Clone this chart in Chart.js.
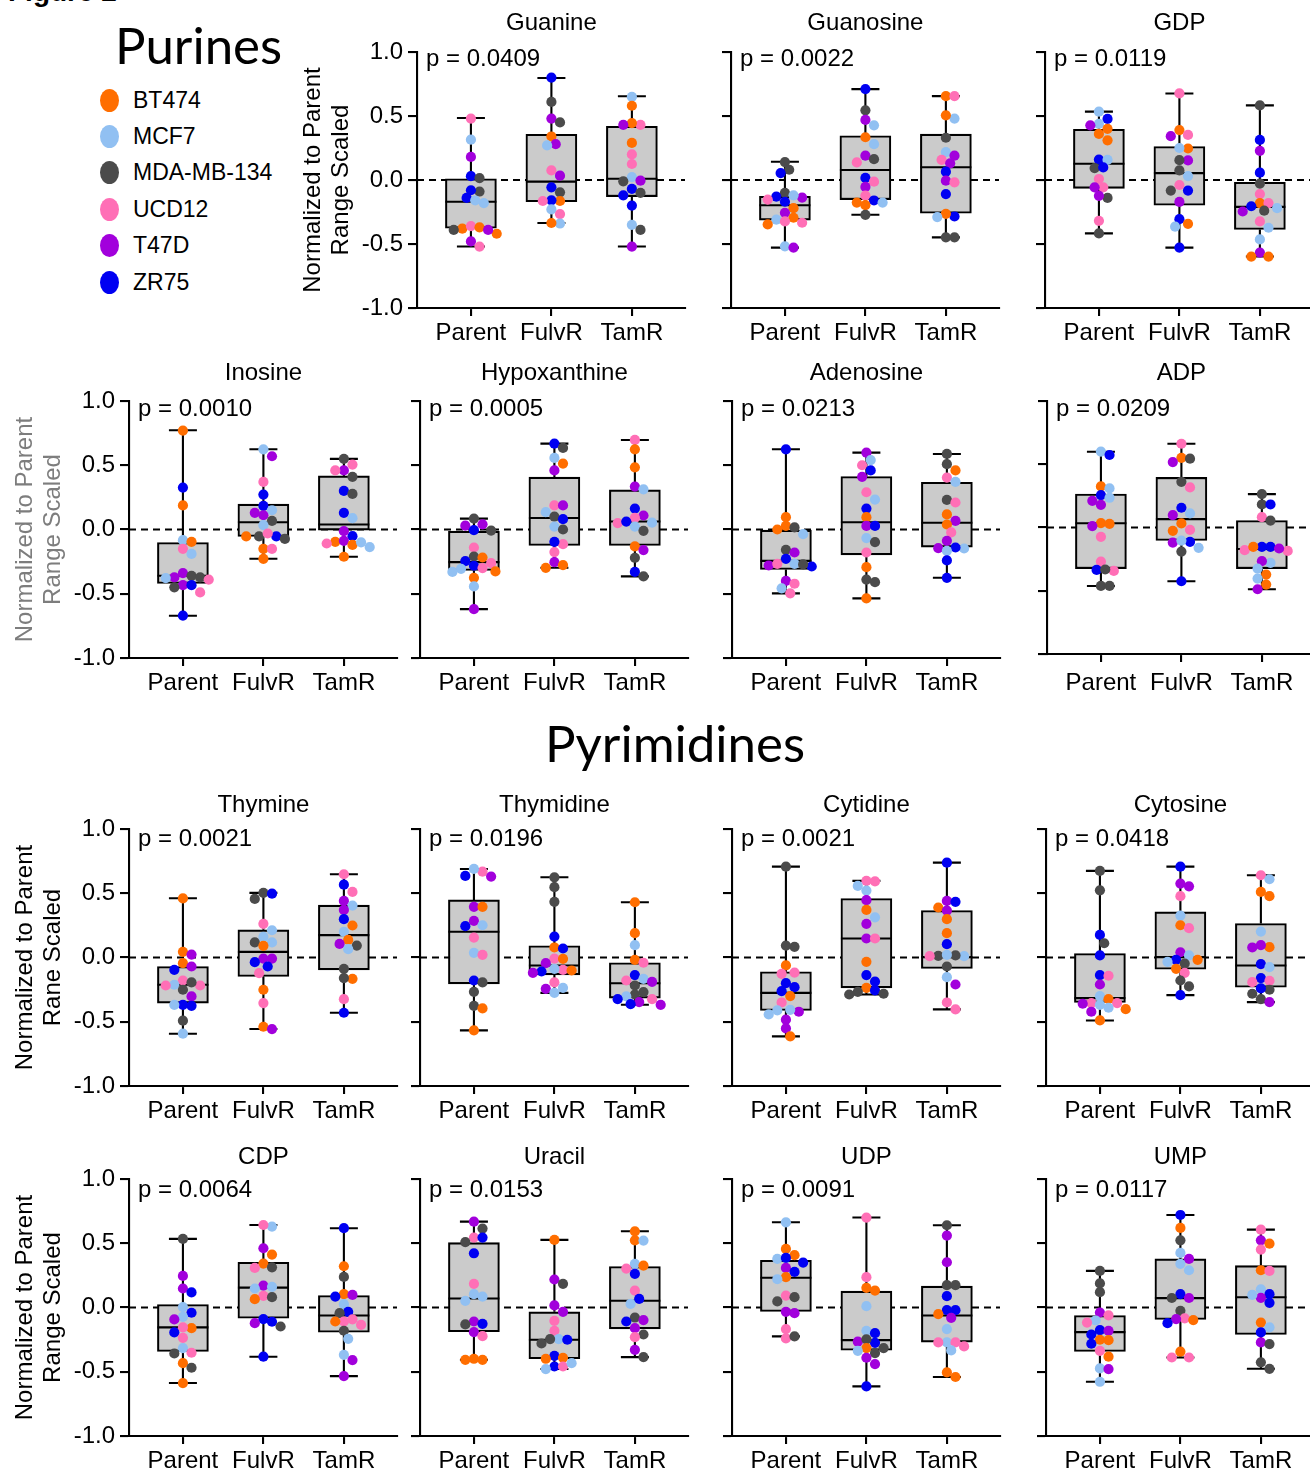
<!DOCTYPE html>
<html>
<head>
<meta charset="utf-8">
<script src="https://cdn.jsdelivr.net/npm/chart.js@4.4.1/dist/chart.umd.min.js"></script>
<style>
  body { margin: 0; background: #fff; }
  #page { position: relative; width: 1310px; height: 1475px; overflow: hidden; font-family: 'Liberation Sans', Arial, sans-serif; color: #000; }
  canvas { position: absolute; }
  .big { position: absolute; font-family: Lato, sans-serif; font-size: 51px; line-height: 51px; white-space: nowrap; }
  .leg { position: absolute; left: 100px; height: 24px; display: flex; align-items: center; font-size: 23px; white-space: nowrap; }
  .leg i { display: inline-block; width: 19px; height: 23px; border-radius: 50%; margin-right: 14px; }
</style>
</head>
<body>
<div id="page">
  <div style="position:absolute;left:8px;top:-22px;font:bold 28px/28px 'Liberation Sans',Arial;">Figure 2</div>
  <div class="big" style="left:115px;top:19px;">Purines</div>
  <div class="big" style="left:0;width:1350px;text-align:center;top:717px;">Pyrimidines</div>
</div>
<script>
// ---- data ----
const groups = ['Parent', 'FulvR', 'TamR'];
const cellLines = ['BT474', 'MCF7', 'MDA-MB-134', 'UCD12', 'T47D', 'ZR75'];
const lineCodes = ['o', 'l', 'd', 'p', 'v', 'b'];
const yTicks = [-1, -0.5, 0, 0.5, 1];

const panelNames = ['Guanine', 'Guanosine', 'GDP', 'Inosine', 'Hypoxanthine', 'Adenosine', 'ADP',
  'Thymine', 'Thymidine', 'Cytidine', 'Cytosine', 'CDP', 'Uracil', 'UDP', 'UMP'];
const pValues = ['0.0409', '0.0022', '0.0119', '0.0010', '0.0005', '0.0213', '0.0209',
  '0.0021', '0.0196', '0.0021', '0.0418', '0.0064', '0.0153', '0.0091', '0.0117'];

// box stats per group: [min, Q1, median, Q3, max]
const guanineBox = [[-0.52, -0.377, -0.17, 0.01, 0.484], [-0.336, -0.17, -0.013, 0.357, 0.797], [-0.52, -0.13, 0.01, 0.42, 0.654]];
const guanosineBox = [[-0.528, -0.313, -0.197, -0.127, 0.142], [-0.272, -0.153, 0.078, 0.345, 0.71], [-0.448, -0.26, 0.10, 0.358, 0.655]];
const gdpBox = [[-0.417, -0.065, 0.127, 0.396, 0.534], [-0.528, -0.197, 0.054, 0.262, 0.676], [-0.598, -0.386, -0.21, -0.018, 0.583]];
const inosineBox = [[-0.671, -0.42, -0.36, -0.101, 0.772], [-0.228, -0.054, 0.057, 0.197, 0.624], [-0.212, -0.005, 0.039, 0.417, 0.55]];
const hypoxanthineBox = [[-0.62, -0.319, -0.254, -0.013, 0.085], [-0.298, -0.124, 0.09, 0.407, 0.668], [-0.365, -0.124, 0.062, 0.308, 0.697]];
const adenosineBox = [[-0.497, -0.311, -0.244, -0.005, 0.624], [-0.536, -0.197, 0.057, 0.412, 0.598], [-0.376, -0.137, 0.052, 0.368, 0.588]];
const adpBox = [[-0.462, -0.325, 0.034, 0.264, 0.599], [-0.425, -0.103, 0.066, 0.396, 0.662], [-0.488, -0.325, -0.17, 0.055, 0.264]];
const thymineBox = [[-0.593, -0.355, -0.212, -0.07, 0.461], [-0.557, -0.148, 0.044, 0.215, 0.503], [-0.43, -0.096, 0.174, 0.407, 0.648]];
const thymidineBox = [[-0.567, -0.205, 0.20, 0.448, 0.689], [-0.275, -0.135, -0.062, 0.091, 0.624], [-0.368, -0.316, -0.20, -0.041, 0.43]];
const cytidineBox = [[-0.614, -0.412, -0.275, -0.111, 0.707], [-0.288, -0.236, 0.148, 0.459, 0.596], [-0.404, -0.085, 0.003, 0.365, 0.738]];
const cytosineBox = [[-0.49, -0.35, -0.316, 0.031, 0.674], [-0.293, -0.091, 0.003, 0.355, 0.707], [-0.347, -0.231, -0.062, 0.264, 0.64]];
const cdpBox = [[-0.588, -0.342, -0.155, 0.023, 0.534], [-0.383, -0.083, 0.155, 0.352, 0.642], [-0.534, -0.192, -0.062, 0.093, 0.617]];
const uracilBox = [[-0.407, -0.189, 0.07, 0.505, 0.668], [-0.479, -0.399, -0.251, -0.034, 0.526], [-0.386, -0.166, 0.052, 0.319, 0.593]];
const udpBox = [[-0.225, -0.031, 0.231, 0.368, 0.663], [-0.614, -0.332, -0.254, 0.127, 0.70], [-0.541, -0.269, -0.062, 0.166, 0.64]];
const umpBox = [[-0.578, -0.342, -0.192, -0.062, 0.285], [-0.389, -0.093, 0.073, 0.378, 0.72], [-0.477, -0.21, 0.08, 0.326, 0.606]];

// individual replicates per group: [cell line code, value]
const guaninePts = [
  [['p',.48],['l',.315],['v',.18],['b',.03],['d',.015],['d',-.09],['b',-.08],['b',-.14],['l',-.18],['l',-.16],['o',-.38],['p',-.36],['o',-.37],['o',-.42],['v',-.39],['d',-.39],['v',-.48],['p',-.52]],
  [['b',.80],['d',.61],['v',.48],['d',.45],['o',.34],['v',.28],['l',.27],['p',.075],['v',.034],['b',-.057],['d',-.096],['o',-.164],['b',-.159],['p',-.164],['l',-.23],['p',-.266],['l',-.34],['o',-.336]],
  [['l',.65],['o',.58],['p',.43],['o',.445],['v',.43],['o',.29],['p',.20],['p',.125],['l',.023],['v',-.005],['d',-.01],['b',-.07],['d',-.10],['b',-.12],['b',-.20],['l',-.35],['d',-.39],['v',-.52]]
];
const guanosinePts = [
  [['d',.14],['d',.08],['b',.054],['d',-.10],['v',-.137],['l',-.12],['b',-.13],['b',-.17],['p',-.153],['o',-.22],['v',-.256],['o',-.295],['l',-.31],['p',-.334],['o',-.347],['p',-.324],['l',-.518],['v',-.528]],
  [['b',.71],['d',.544],['v',.469],['l',.427],['o',.334],['l',.28],['v',.19],['d',.163],['p',.137],['b',.016],['p',-.013],['v',-.054],['p',-.122],['b',-.16],['o',-.176],['o',-.197],['l',-.176],['d',-.272]],
  [['o',.655],['p',.655],['l',.48],['o',.505],['d',.33],['l',.218],['p',.158],['v',.19],['v',.13],['b',.065],['v',-.005],['p',-.018],['b',-.11],['b',-.285],['o',-.264],['l',-.29],['d',-.448],['d',-.448]]
];
const gdpPts = [
  [['l',.534],['b',.477],['l',.438],['v',.427],['o',.40],['o',.36],['o',.31],['b',.16],['l',.158],['d',.093],['b',.098],['p',.008],['p',-.057],['v',-.057],['d',-.14],['v',-.124],['p',-.319],['d',-.417]],
  [['p',.676],['o',.39],['v',.342],['p',.352],['o',.246],['l',.25],['v',.153],['d',.155],['d',.075],['l',.031],['p',-.039],['b',-.083],['d',-.083],['v',-.171],['b',-.306],['o',-.342],['l',-.365],['b',-.528]],
  [['d',.583],['b',.313],['v',.228],['b',.057],['d',-.028],['p',-.11],['o',-.18],['p',-.18],['b',-.205],['l',-.22],['v',-.246],['d',-.24],['p',-.324],['l',-.373],['l',-.464],['v',-.567],['o',-.598],['o',-.598]]
];
const inosinePts = [
  [['o',.77],['b',.326],['o',.187],['l',-.083],['o',-.096],['p',-.15],['l',-.19],['v',-.34],['d',-.36],['v',-.373],['d',-.373],['p',-.39],['l',-.378],['v',-.433],['b',-.433],['d',-.45],['p',-.49],['b',-.67]],
  [['l',.624],['v',.57],['p',.37],['b',.272],['b',.184],['l',.15],['v',.111],['v',.13],['d',.067],['l',.034],['d',-.054],['b',-.054],['d',-.073],['o',-.054],['p',-.031],['o',-.15],['p',-.15],['o',-.228]],
  [['d',.55],['v',.46],['p',.46],['p',.505],['d',.41],['b',.30],['d',.277],['b',.13],['l',.088],['b',-.052],['v',-.013],['o',-.096],['v',-.088],['o',-.12],['p',-.109],['l',-.137],['l',-.10],['o',-.212]]
];
const hypoxanthinePts = [
  [['d',.085],['v',.03],['v',.04],['d',-.008],['b',-.005],['p',-.14],['d',-.21],['o',-.218],['b',-.246],['p',-.262],['b',-.282],['l',-.306],['p',-.30],['o',-.326],['l',-.33],['o',-.376],['l',-.443],['v',-.62]],
  [['b',.668],['d',.635],['l',.557],['o',.513],['v',.46],['p',.187],['v',.187],['l',.135],['d',.10],['b',.08],['l',.023],['d',0],['p',-.114],['b',-.096],['p',-.176],['v',-.254],['o',-.298],['o',-.277]],
  [['p',.697],['o',.624],['o',.484],['v',.334],['l',.313],['b',.163],['v',.109],['p',.09],['l',.054],['p',.05],['b',.062],['l',.023],['d',-.01],['o',-.132],['v',-.16],['d',-.22],['b',-.33],['d',-.365]]
];
const adenosinePts = [
  [['b',.624],['o',.096],['o',0],['o',.028],['d',.016],['l',-.036],['d',-.158],['v',-.179],['b',-.228],['l',-.267],['b',-.288],['v',-.28],['d',-.272],['p',-.267],['v',-.40],['p',-.422],['l',-.458],['p',-.497]],
  [['v',.598],['l',.54],['p',.50],['b',.46],['v',.41],['p',.29],['l',.233],['b',.163],['o',.096],['v',.028],['b',.028],['l',-.067],['d',-.098],['p',-.179],['o',-.293],['d',-.39],['d',-.41],['o',-.536]],
  [['d',.588],['d',.508],['o',.46],['p',.404],['l',.37],['d',.23],['p',.21],['o',.117],['v',.067],['o',.039],['p',-.023],['v',-.088],['v',-.145],['l',-.148],['b',-.14],['l',-.166],['b',-.241],['b',-.376]]
];
const adpPts = [
  [['l',.60],['b',.573],['o',.325],['l',.309],['b',.256],['l',.235],['v',.211],['v',.179],['o',.034],['o',.029],['v',.011],['p',-.074],['p',-.269],['b',-.335],['p',-.343],['d',-.332],['d',-.462],['d',-.462]],
  [['p',.662],['o',.551],['d',.544],['v',.517],['d',.361],['p',.317],['b',.156],['l',.111],['v',.098],['o',.032],['o',-.026],['p',-.018],['v',-.119],['b',-.113],['l',-.103],['l',-.161],['d',-.19],['b',-.425]],
  [['d',.264],['d',.182],['b',.182],['p',.082],['d',.055],['b',-.153],['b',-.153],['p',-.179],['p',-.185],['v',-.166],['o',-.153],['l',-.28],['v',-.266],['l',-.325],['o',-.372],['l',-.404],['o',-.451],['v',-.488]]
];
const thyminePts = [
  [['o',.46],['o',.044],['v',.023],['o',-.044],['v',-.07],['b',-.096],['p',-.179],['l',-.212],['p',-.218],['p',-.218],['d',-.194],['d',-.251],['v',-.303],['b',-.368],['b',-.376],['l',-.368],['d',-.492],['l',-.593]],
  [['d',.503],['b',.497],['d',.456],['p',.262],['l',.212],['l',.16],['l',.117],['d',.117],['o',.091],['v',-.008],['v',-.008],['b',-.036],['b',-.07],['p',-.122],['o',-.251],['p',-.355],['o',-.539],['v',-.557]],
  [['p',.648],['b',.567],['p',.51],['v',.44],['l',.404],['v',.37],['b',.298],['o',.249],['l',.20],['o',.137],['v',.106],['d',.093],['l',.065],['d',-.088],['o',-.166],['d',-.16],['p',-.324],['b',-.43]]
];
const thymidinePts = [
  [['p',.668],['l',.689],['v',.63],['b',.635],['v',.394],['o',.394],['v',.285],['b',.244],['l',.251],['p',.155],['l',.036],['p',.021],['b',-.179],['d',-.194],['d',-.267],['d',-.376],['o',-.396],['o',-.567]],
  [['d',.624],['d',.547],['d',.433],['b',.163],['o',.078],['b',.07],['p',-.008],['o',-.01],['v',-.044],['b',-.109],['p',-.096],['v',-.119],['o',-.101],['l',-.088],['p',-.194],['v',-.244],['l',-.236],['l',-.275]],
  [['o',.43],['o',.189],['l',.096],['o',-.018],['p',-.041],['b',-.137],['l',-.166],['v',-.189],['p',-.179],['d',-.218],['d',-.288],['d',-.269],['l',-.303],['p',-.324],['b',-.324],['v',-.347],['v',-.368],['b',-.363]]
];
const cytidinePts = [
  [['d',.707],['d',.083],['d',.093],['o',-.062],['p',-.117],['p',-.127],['b',-.20],['b',-.231],['b',-.262],['o',-.30],['p',-.35],['v',-.422],['l',-.443],['l',-.412],['l',-.407],['v',-.484],['v',-.552],['o',-.614]],
  [['p',.596],['p',.593],['l',.557],['l',.521],['v',.446],['o',.37],['l',.313],['v',.262],['v',.148],['p',.148],['o',-.034],['b',-.137],['b',-.187],['o',-.236],['b',-.256],['d',-.282],['d',-.267],['d',-.288]],
  [['b',.738],['v',.44],['b',.433],['o',.389],['v',.365],['o',.298],['o',.189],['b',.104],['d',.013],['l',.01],['d',.016],['l',.021],['p',.01],['d',-.07],['l',-.153],['v',-.21],['p',-.35],['p',-.404]]
];
const cytosinePts = [
  [['d',.674],['d',.523],['b',.176],['d',.111],['b',.016],['b',-.137],['p',-.142],['v',-.21],['l',-.30],['o',-.324],['p',-.355],['p',-.355],['l',-.368],['v',-.36],['o',-.402],['v',-.422],['l',-.391],['o',-.49]],
  [['b',.707],['v',.575],['v',.554],['p',.477],['l',.326],['o',.251],['p',.228],['v',.041],['l',.016],['b',-.018],['d',-.047],['l',-.034],['o',-.018],['o',-.088],['p',-.119],['d',-.179],['d',-.225],['b',-.293]],
  [['p',.64],['l',.609],['o',.51],['o',.477],['l',.202],['o',.08],['v',.096],['v',.078],['b',-.052],['l',-.075],['b',-.161],['p',-.181],['p',-.192],['d',-.251],['b',-.241],['d',-.282],['d',-.324],['v',-.347]]
];
const cdpPts = [
  [['d',.534],['v',.246],['v',.148],['b',.117],['l',.003],['b',-.041],['l',-.073],['v',-.093],['o',-.161],['p',-.155],['b',-.194],['p',-.236],['l',-.316],['d',-.358],['p',-.352],['o',-.433],['d',-.469],['o',-.588]],
  [['l',.63],['p',.642],['v',.461],['o',.412],['o',.342],['d',.313],['p',.308],['v',.171],['l',.161],['l',.148],['p',.091],['d',.08],['o',.065],['b',-.091],['b',-.111],['v',-.122],['d',-.148],['b',-.383]],
  [['b',.617],['o',.321],['d',.238],['o',.104],['b',.085],['v',.098],['l',.026],['b',-.034],['d',-.044],['p',-.109],['p',-.135],['p',-.093],['o',-.109],['d',-.181],['l',-.244],['l',-.368],['v',-.409],['v',-.534]]
];
const uracilPts = [
  [['v',.668],['d',.614],['p',.544],['b',.544],['d',.508],['b',.422],['p',.184],['l',.104],['l',.085],['l',.052],['v',-.109],['b',-.127],['d',-.132],['v',-.192],['p',-.223],['o',-.407],['o',-.399],['o',-.407]],
  [['o',.526],['v',.218],['d',.184],['v',.016],['v',-.034],['p',-.104],['p',-.181],['l',-.246],['d',-.28],['b',-.251],['d',-.246],['b',-.376],['o',-.399],['o',-.391],['b',-.459],['p',-.459],['l',-.433],['l',-.479]],
  [['o',.593],['o',.523],['l',.521],['l',.339],['o',.326],['p',.303],['b',.262],['p',.132],['b',.067],['l',.028],['d',-.078],['v',-.098],['b',-.109],['v',-.161],['d',-.21],['p',-.231],['v',-.329],['d',-.386]]
];
const udpPts = [
  [['l',.663],['o',.456],['o',.407],['l',.378],['b',.386],['b',.35],['v',.308],['b',.277],['o',.236],['l',.22],['p',.093],['d',.08],['d',.047],['v',-.034],['v',-.044],['p',-.168],['p',-.241],['d',-.225]],
  [['p',.70],['p',.236],['o',.153],['o',.132],['l',.01],['l',-.181],['b',-.20],['b',-.275],['v',-.266],['d',-.248],['o',-.316],['d',-.316],['l',-.337],['d',-.355],['v',-.391],['v',-.44],['b',-.614]],
  [['d',.64],['v',.56],['v',.352],['d',.174],['d',.174],['b',.088],['b',-.021],['b',-.021],['o',-.052],['v',-.08],['l',-.168],['l',-.272],['p',-.303],['p',-.272],['p',-.272],['l',-.334],['o',-.505],['o',-.541]]
];
const umpPts = [
  [['d',.285],['d',.187],['d',.119],['v',-.039],['p',-.062],['l',-.101],['p',-.117],['b',-.176],['v',-.181],['b',-.21],['o',-.251],['o',-.254],['b',-.282],['p',-.337],['o',-.383],['l',-.474],['v',-.479],['l',-.578]],
  [['b',.72],['o',.619],['d',.523],['l',.425],['v',.378],['l',.34],['l',.29],['b',.104],['v',.074],['d',.074],['d',-.026],['p',-.085],['v',-.09],['o',-.098],['b',-.122],['o',-.344],['p',-.389],['p',-.389]],
  [['p',.606],['v',.523],['o',.497],['p',.451],['o',.29],['p',.285],['l',.142],['b',.104],['v',.075],['l',.098],['b',.036],['o',-.117],['l',-.155],['b',-.194],['v',-.272],['d',-.285],['d',-.427],['d',-.477]]
];

const panelBoxes = [guanineBox, guanosineBox, gdpBox, inosineBox, hypoxanthineBox, adenosineBox, adpBox,
  thymineBox, thymidineBox, cytidineBox, cytosineBox, cdpBox, uracilBox, udpBox, umpBox];
const panelPts = [guaninePts, guanosinePts, gdpPts, inosinePts, hypoxanthinePts, adenosinePts, adpPts,
  thyminePts, thymidinePts, cytidinePts, cytosinePts, cdpPts, uracilPts, udpPts, umpPts];

// ---- look & layout ----
const lineColors = ['#ff6e00', '#91c0f2', '#4b4b4b', '#ff6fb6', '#a200dc', '#0000f2'];
const rowYTitle = [['Normalized to Parent', 'Range Scaled'], ['Normalized to Parent', 'Range Scaled'],
  ['Normalized to Parent', 'Rane Scaled'], ['Normalized to Parent', 'Range Scaled']];
const rowYTitleColor = ['#000', '#7d7d7d', '#000', '#000'];
const panelRow = [0, 0, 0, 1, 1, 1, 1, 2, 2, 2, 2, 3, 3, 3, 3];
const panelAxisX = [417, 731, 1045, 129, 420, 732, 1047, 129, 420, 732, 1046, 129, 420, 732, 1046];
const rowTop = [52, 401, 829, 1179];
const rowBottom = [308, 658, 1086, 1436];
const titleGap = [29, 28, 24, 22];
const pGap = [7, 8, 10, 11];

const PLOT_W = 268, Y_W = 120, PAD_T = 50, X_H = 50;
const X_MIN = -0.67, X_MAX = 2.66;
const LW = 2.1, BOX_W = 51, CAP_W = 28, DOT_R = 5.1;
const FONT = 24;

Chart.defaults.font.family = "'Liberation Sans', Arial, sans-serif";
Chart.defaults.color = '#000';

const page = document.getElementById('page');

// legend
cellLines.forEach((name, k) => {
  const row = document.createElement('div');
  row.className = 'leg';
  row.style.top = (100 + k * 36.4 - 12) + 'px';
  row.innerHTML = '<i style="background:' + lineColors[k] + '"></i>' + name;
  page.appendChild(row);
});

// simple beeswarm so dots in a group spread sideways (slight overlap allowed, as in the figure)
function swarm(vals, pxX, pxY) {
  const order = vals.map((v, k) => k).sort((a, b) => vals[b] - vals[a]);
  const placed = [];
  const off = new Array(vals.length).fill(0);
  const D = 2 * DOT_R - 1.6, H = D / 2;
  order.forEach(k => {
    const y = -vals[k] * pxY;
    for (let n = 0; n < 60; n++) {
      const c = (n % 2 ? 1 : -1) * Math.ceil(n / 2) * H;
      if (placed.every(([px, py]) => Math.hypot(px - c, py - y) >= D)) {
        off[k] = c / pxX;
        placed.push([c, y]);
        break;
      }
    }
  });
  return off;
}

const boxExtras = {
  id: 'boxExtras',
  beforeDatasetsDraw(chart) {
    const {ctx, chartArea, scales: {y}} = chart;
    const y0 = y.getPixelForValue(0);
    ctx.save();
    ctx.setLineDash([7, 5]);
    ctx.lineWidth = 2;
    ctx.strokeStyle = '#000';
    ctx.beginPath();
    ctx.moveTo(chartArea.left, y0);
    ctx.lineTo(chartArea.right, y0);
    ctx.stroke();
    ctx.restore();
  },
  afterDatasetDraw(chart, args, opts) {
    if (args.index !== 0) return;
    const {ctx, scales: {x, y}} = chart;
    ctx.save();
    ctx.strokeStyle = '#000';
    ctx.lineWidth = LW;
    opts.stats.forEach((s, g) => {
      const cx = x.getPixelForValue(g);
      const [mn, q1, md, q3, mx] = s.map(v => y.getPixelForValue(v));
      ctx.beginPath();
      ctx.moveTo(cx, q3); ctx.lineTo(cx, mx);
      ctx.moveTo(cx - CAP_W / 2, mx); ctx.lineTo(cx + CAP_W / 2, mx);
      ctx.moveTo(cx, q1); ctx.lineTo(cx, mn);
      ctx.moveTo(cx - CAP_W / 2, mn); ctx.lineTo(cx + CAP_W / 2, mn);
      ctx.moveTo(cx - BOX_W / 2, md); ctx.lineTo(cx + BOX_W / 2, md);
      ctx.stroke();
    });
    ctx.restore();
  },
  afterDraw(chart, args, opts) {
    const {ctx, chartArea, scales: {x}} = chart;
    ctx.save();
    ctx.fillStyle = '#000';
    ctx.font = FONT + "px 'Liberation Sans', Arial, sans-serif";
    ctx.textBaseline = 'middle';
    ctx.textAlign = 'center';
    ctx.fillText(opts.title, x.getPixelForValue(1), chartArea.top - opts.titleGap);
    ctx.textAlign = 'left';
    ctx.fillText('p = ' + opts.p, chartArea.left + 9, chartArea.top + opts.pGap);
    ctx.restore();
  }
};

function makePanel(i) {
  const row = panelRow[i];
  const first = i === 0 || panelRow[i - 1] !== row;
  const short = panelNames[i] === 'ADP';
  const top = rowTop[row];
  const bottom = short ? 654 : rowBottom[row];
  const plotH = bottom - top;
  const w = Y_W + PLOT_W + 8, h = PAD_T + plotH + X_H;

  const cv = document.createElement('canvas');
  cv.width = w; cv.height = h;
  cv.style.left = (panelAxisX[i] - Y_W) + 'px';
  cv.style.top = (top - PAD_T) + 'px';
  cv.style.width = w + 'px'; cv.style.height = h + 'px';
  page.appendChild(cv);

  const pxX = PLOT_W / (X_MAX - X_MIN), pxY = plotH / 2;
  const dots = [], dotColors = [];
  panelPts[i].forEach((grp, g) => {
    const off = swarm(grp.map(p => p[1]), pxX, pxY);
    grp.forEach((p, k) => {
      dots.push({x: g + off[k], y: p[1]});
      dotColors.push(lineColors[lineCodes.indexOf(p[0])]);
    });
  });

  const axisGrid = {drawOnChartArea: false, offset: false, color: '#000', lineWidth: LW};
  new Chart(cv, {
    type: 'scatter',
    data: {
      datasets: [
        {
          type: 'bar',
          data: panelBoxes[i].map((b, g) => ({x: g, y: [b[1], b[3]]})),
          backgroundColor: '#cbcbcb',
          borderColor: '#000',
          borderWidth: LW,
          borderSkipped: false,
          barThickness: BOX_W,
          order: 1
        },
        {
          type: 'scatter',
          data: dots,
          pointBackgroundColor: dotColors,
          pointBorderWidth: 0,
          pointRadius: DOT_R,
          order: 0
        }
      ]
    },
    options: {
      responsive: false,
      animation: false,
      devicePixelRatio: 1,
      events: [],
      layout: {padding: {top: PAD_T, right: 8, left: 0, bottom: 0}},
      plugins: {
        legend: {display: false},
        tooltip: {enabled: false},
        boxExtras: {stats: panelBoxes[i], title: panelNames[i], p: pValues[i], titleGap: titleGap[row], pGap: pGap[row]}
      },
      scales: {
        x: {
          type: 'linear', min: X_MIN, max: X_MAX, offset: false,
          afterBuildTicks: s => { s.ticks = groups.map((g, k) => ({value: k})); },
          afterFit: s => { s.height = X_H; },
          ticks: {callback: v => groups[v], font: {size: FONT}, color: '#000', padding: short ? 7 : 3, maxRotation: 0, autoSkip: false},
          grid: {...axisGrid, tickLength: 8},
          border: {color: '#000', width: LW}
        },
        y: {
          type: 'linear', min: -1, max: 1,
          afterBuildTicks: s => { s.ticks = yTicks.map(v => ({value: v})); },
          afterFit: s => { s.width = Y_W; },
          ticks: {callback: v => first ? v.toFixed(1) : '', font: {size: FONT}, color: '#000', padding: 5},
          grid: {...axisGrid, tickLength: 9},
          border: {color: '#000', width: LW},
          title: {display: first, text: rowYTitle[row], color: rowYTitleColor[row],
            font: {size: FONT, lineHeight: 1.17}, padding: {top: 2, bottom: 0}}
        }
      }
    },
    plugins: [boxExtras]
  });
}

panelNames.forEach((n, i) => makePanel(i));
</script>
</body>
</html>
